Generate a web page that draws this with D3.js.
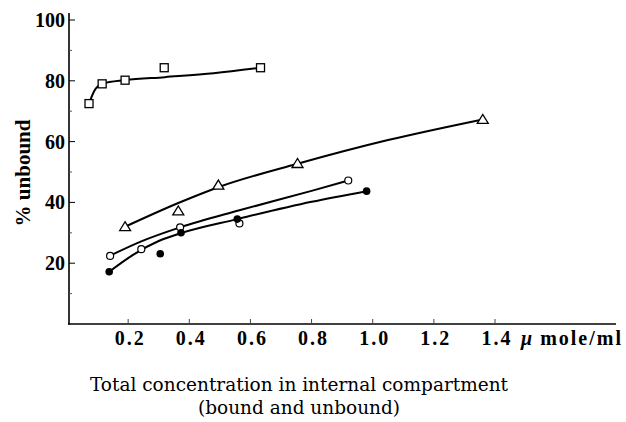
<!DOCTYPE html>
<html>
<head>
<meta charset="utf-8">
<script src="https://cdn.jsdelivr.net/npm/d3@7"></script>
<style>
  body { margin: 0; background: #fff; }
  svg { display: block; }
</style>
</head>
<body>
<div id="chart"></div>
<script>
// Measured points, % unbound vs total concentration (micro mole/ml)
var squareX = [0.072, 0.115, 0.19, 0.318, 0.633];
var squareY = [72.5, 79, 80.2, 84.3, 84.3];
var triangleX = [0.19, 0.364, 0.495, 0.754, 1.36];
var triangleY = [32, 37.2, 45.7, 52.8, 67.3];
var openX = [0.141, 0.243, 0.37, 0.564, 0.92];
var openY = [22.4, 24.6, 31.8, 33.1, 47.2];
var filledX = [0.138, 0.305, 0.373, 0.557, 0.98];
var filledY = [17.2, 23.1, 30, 34.5, 43.7];

// Hand-drawn fitted curves
var squareCurveX = [0.072, 0.09, 0.115, 0.19, 0.32, 0.48, 0.633];
var squareCurveY = [72.5, 76.8, 79, 80.2, 81.2, 82.5, 84.3];
var triangleCurveX = [0.19, 0.364, 0.495, 0.754, 1.05, 1.36];
var triangleCurveY = [32, 39.8, 45, 52.7, 60.5, 67.3];
var openCurveX = [0.141, 0.243, 0.37, 0.564, 0.8, 0.92];
var openCurveY = [22.5, 27.2, 31.8, 37.4, 43.8, 47.2];
var filledCurveX = [0.138, 0.22, 0.3, 0.373, 0.557, 0.8, 0.98];
var filledCurveY = [17.2, 23, 27.3, 29.9, 34.5, 40.2, 43.7];

var xTicks = [0.2, 0.4, 0.6, 0.8, 1.0, 1.2, 1.4];
var yTicks = [20, 40, 60, 80, 100];
var yMinor = [10, 30, 50, 70, 90];

var width = 626, height = 422;
var svg = d3.select("#chart").append("svg")
  .attr("width", width)
  .attr("height", height);

// scales
var xScale = d3.scaleLinear().domain([0, 1.4]).range([67, 495]);
var yScale = d3.scaleLinear().domain([0, 100]).range([324, 20]);

// axis lines
svg.append("line")
  .attr("x1", 69).attr("x2", 69)
  .attr("y1", 13).attr("y2", 324.5)
  .attr("stroke", "#000").attr("stroke-width", 1.6);
svg.append("line")
  .attr("x1", 68).attr("x2", 616)
  .attr("y1", 324).attr("y2", 324)
  .attr("stroke", "#000").attr("stroke-width", 1.6);

// y ticks and labels
svg.selectAll(".ytick")
  .data(yTicks)
  .enter().append("line")
  .attr("x1", 69).attr("x2", 75)
  .attr("y1", function(d) { return yScale(d); })
  .attr("y2", function(d) { return yScale(d); })
  .attr("stroke", "#000").attr("stroke-width", 1);
svg.selectAll(".yminor")
  .data(yMinor)
  .enter().append("line")
  .attr("x1", 69).attr("x2", 72)
  .attr("y1", function(d) { return yScale(d); })
  .attr("y2", function(d) { return yScale(d); })
  .attr("stroke", "#555").attr("stroke-width", 1);
svg.selectAll(".ylabel")
  .data(yTicks)
  .enter().append("text")
  .attr("x", 65)
  .attr("y", function(d) { return yScale(d) + 7; })
  .attr("text-anchor", "end")
  .attr("font-family", "'Liberation Serif', serif")
  .attr("font-weight", "bold")
  .attr("font-size", 20)
  .text(function(d) { return d; });

// x ticks and labels
svg.selectAll(".xtick")
  .data(xTicks)
  .enter().append("line")
  .attr("x1", function(d) { return xScale(d); })
  .attr("x2", function(d) { return xScale(d); })
  .attr("y1", 324).attr("y2", 319)
  .attr("stroke", "#444").attr("stroke-width", 1);
svg.selectAll(".xlabel")
  .data(xTicks)
  .enter().append("text")
  .attr("x", function(d) { return xScale(d) + 2; })
  .attr("y", 345)
  .attr("text-anchor", "middle")
  .attr("font-family", "'Liberation Serif', serif")
  .attr("font-weight", "bold")
  .attr("font-size", 20)
  .attr("letter-spacing", 2)
  .text(function(d) { return d3.format(".1f")(d); });

// unit after the last tick
var unit = svg.append("text")
  .attr("x", 521)
  .attr("y", 345)
  .attr("font-family", "'Liberation Serif', serif")
  .attr("font-weight", "bold")
  .attr("font-size", 20)
  .attr("letter-spacing", 2);
unit.append("tspan").attr("font-style", "italic").text("\u03bc");
unit.append("tspan").attr("dx", 6).text("mole/ml");

// y axis title
svg.append("text")
  .attr("transform", "translate(30,173) rotate(-90)")
  .attr("text-anchor", "middle")
  .attr("font-family", "'Liberation Serif', serif")
  .attr("font-weight", "bold")
  .attr("font-size", 21)
  .text("% unbound");

// x axis title
svg.append("text")
  .attr("x", 299).attr("y", 391)
  .attr("text-anchor", "middle")
  .attr("font-family", "'DejaVu Serif', serif")
  .attr("font-size", 18.5)
  .text("Total concentration in internal compartment");
svg.append("text")
  .attr("x", 299).attr("y", 414)
  .attr("text-anchor", "middle")
  .attr("font-family", "'DejaVu Serif', serif")
  .attr("font-size", 18.5)
  .text("(bound and unbound)");

// fitted curves
var line = d3.line()
  .x(function(d) { return xScale(d[0]); })
  .y(function(d) { return yScale(d[1]); })
  .curve(d3.curveMonotoneX);

[[squareCurveX, squareCurveY], [triangleCurveX, triangleCurveY],
 [openCurveX, openCurveY], [filledCurveX, filledCurveY]].forEach(function(c) {
  svg.append("path")
    .datum(d3.zip(c[0], c[1]))
    .attr("d", line)
    .attr("fill", "none")
    .attr("stroke", "#000")
    .attr("stroke-width", 2);
});

// markers
svg.selectAll(".sq")
  .data(d3.zip(squareX, squareY))
  .enter().append("rect")
  .attr("x", function(d) { return xScale(d[0]) - 4; })
  .attr("y", function(d) { return yScale(d[1]) - 4; })
  .attr("width", 8).attr("height", 8)
  .attr("fill", "#fff").attr("stroke", "#000").attr("stroke-width", 1.3);

svg.selectAll(".tri")
  .data(d3.zip(triangleX, triangleY))
  .enter().append("path")
  .attr("d", function(d) {
    var cx = xScale(d[0]), cy = yScale(d[1]);
    return "M" + (cx - 5.5) + "," + (cy + 4) + "L" + cx + "," + (cy - 5) + "L" + (cx + 5.5) + "," + (cy + 4) + "Z";
  })
  .attr("fill", "#fff").attr("stroke", "#000").attr("stroke-width", 1.3);

svg.selectAll(".open")
  .data(d3.zip(openX, openY))
  .enter().append("circle")
  .attr("cx", function(d) { return xScale(d[0]); })
  .attr("cy", function(d) { return yScale(d[1]); })
  .attr("r", 3.5)
  .attr("fill", "#fff").attr("stroke", "#000").attr("stroke-width", 1.2);

svg.selectAll(".filled")
  .data(d3.zip(filledX, filledY))
  .enter().append("circle")
  .attr("cx", function(d) { return xScale(d[0]); })
  .attr("cy", function(d) { return yScale(d[1]); })
  .attr("r", 3.8)
  .attr("fill", "#000");
</script>
</body>
</html>
